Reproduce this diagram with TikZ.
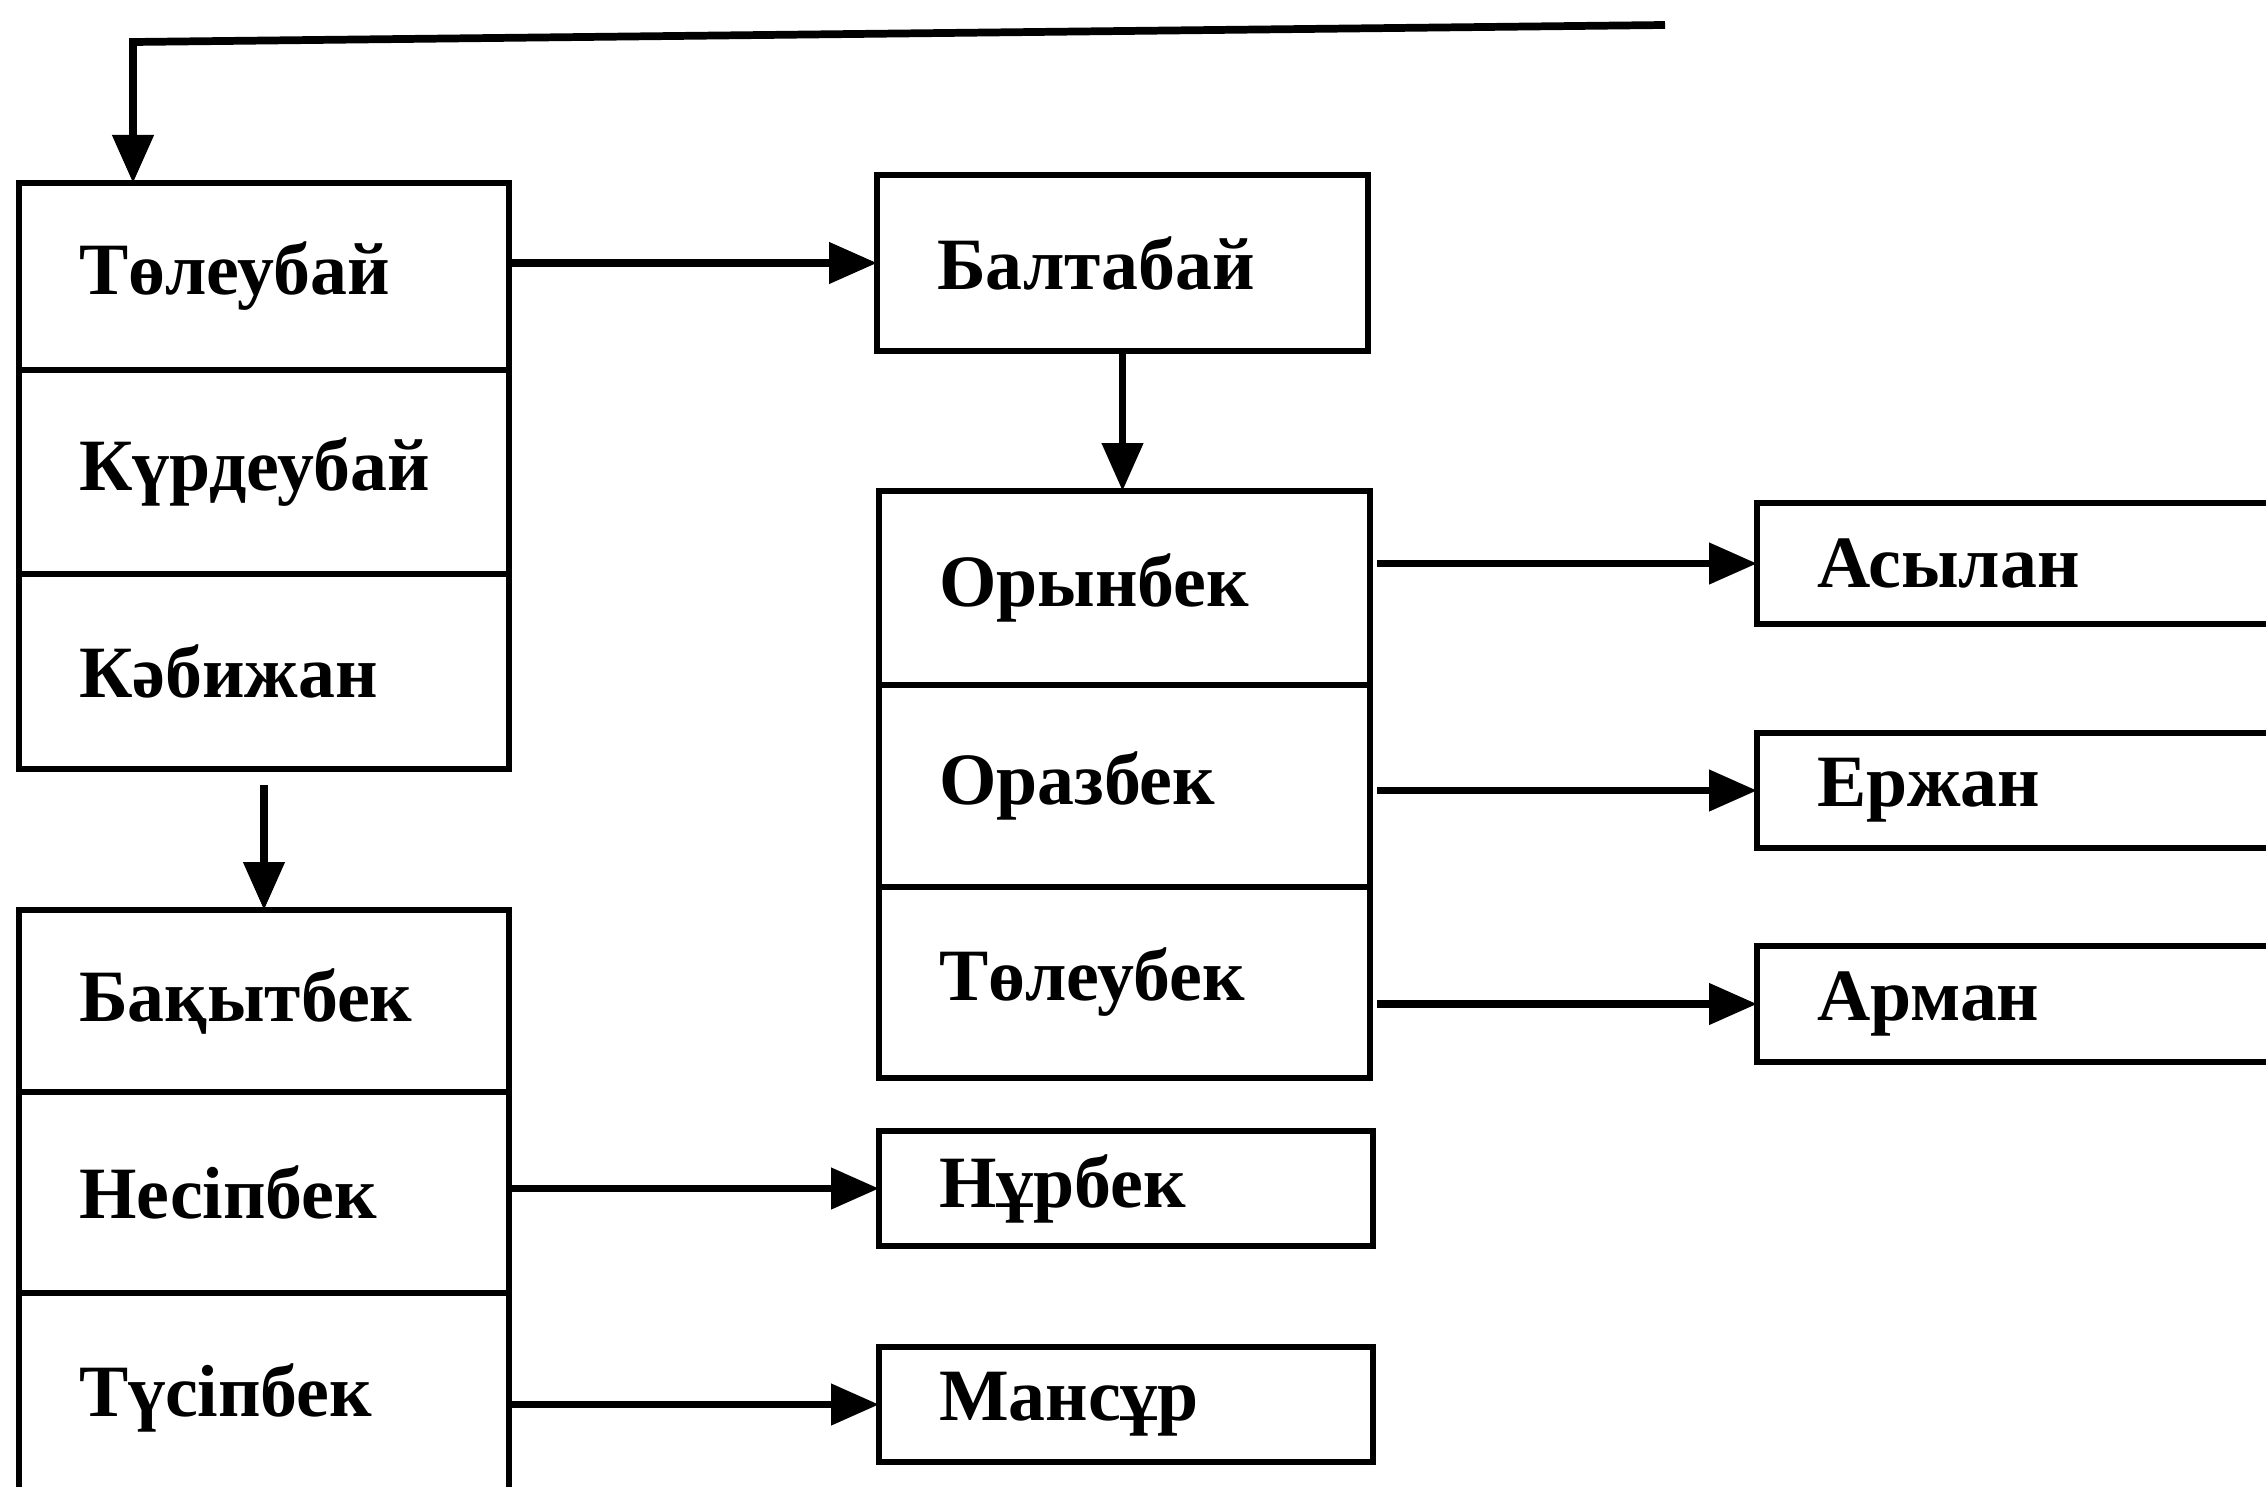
\documentclass[tikz,border=0pt]{standalone}
\usepackage{fontspec}
\setmainfont{Liberation Serif}
\usetikzlibrary{arrows.meta}

\begin{document}
\begin{tikzpicture}[
    namebox/.style={draw, line width=1.8pt, rectangle, anchor=north west, outer sep=0pt,
        inner xsep=0.6cm, inner ysep=0pt, align=left, font=\bfseries\fontsize{21}{25}\selectfont},
    arr/.style={line width=2.2pt, -{Triangle[length=4.8mm, width=4mm]}}
]
    \useasboundingbox (0,0) rectangle (22.66,-14.87);

    % sol baganlar
    \node[namebox, text width=3.7cm, minimum height=1.87cm] (toleubai) at (0.19,-1.83) {Төлеубай};
    \node[namebox, text width=3.7cm, minimum height=2.04cm] (kurdeubai) at (0.19,-3.70) {Күрдеубай};
    \node[namebox, text width=3.7cm, minimum height=1.95cm] (kabizhan) at (0.19,-5.74) {Кәбижан};

    \node[namebox, text width=3.7cm, minimum height=1.82cm] (baktybek) at (0.19,-9.10) {Бақытбек};
    \node[namebox, text width=3.7cm, minimum height=2.01cm] (nesipbek) at (0.19,-10.92) {Несіпбек};
    \node[namebox, text width=3.7cm, minimum height=2.10cm] (tusipbek) at (0.19,-12.93) {Түсіпбек};

    % orta
    \node[namebox, text width=3.71cm, minimum height=1.76cm] (baltabai) at (8.77,-1.75) {Балтабай};
    \node[namebox, text width=3.71cm, minimum height=1.94cm] (orynbek) at (8.79,-4.91) {Орынбек};
    \node[namebox, text width=3.71cm, minimum height=2.02cm] (orazbek) at (8.79,-6.85) {Оразбек};
    \node[namebox, text width=3.71cm, minimum height=1.91cm] (toleubek) at (8.79,-8.87) {Төлеубек};
    \node[namebox, text width=3.74cm, minimum height=1.15cm] (nurbek) at (8.79,-11.31) {Нұрбек};
    \node[namebox, text width=3.74cm, minimum height=1.15cm] (mansur) at (8.79,-13.47) {Мансұр};

    % on jaq
    \node[namebox, text width=4.2cm, minimum height=1.21cm] (asylan) at (17.57,-5.03) {Асылан};
    \node[namebox, text width=4.2cm, minimum height=1.15cm] (erzhan) at (17.57,-7.33) {Ержан};
    \node[namebox, text width=4.2cm, minimum height=1.16cm] (arman) at (17.57,-9.46) {Арман};

    % zhogargy syzyk
    \coordinate (topend) at (16.65,-0.25);
    \coordinate (topcorner) at (1.33,-0.42);
    \draw[arr] (topend) -- (topcorner) -- (topcorner |- toleubai.north);

    \draw[arr] (baltabai.west -| toleubai.east) -- (baltabai.west);
    \draw[arr] (baltabai.south) -- (baltabai.south |- orynbek.north);
    \draw[arr, shorten <=0.16cm] (kabizhan.south) -- (baktybek.north);

    \foreach \a/\b in {orynbek/asylan, orazbek/erzhan, toleubek/arman} {
        \draw[arr, shorten <=0.07cm] (\b.west -| \a.east) -- (\b.west);
    }
    \foreach \a/\b in {nesipbek/nurbek, tusipbek/mansur} {
        \draw[arr] (\b.west -| \a.east) -- (\b.west);
    }
\end{tikzpicture}
\end{document}
